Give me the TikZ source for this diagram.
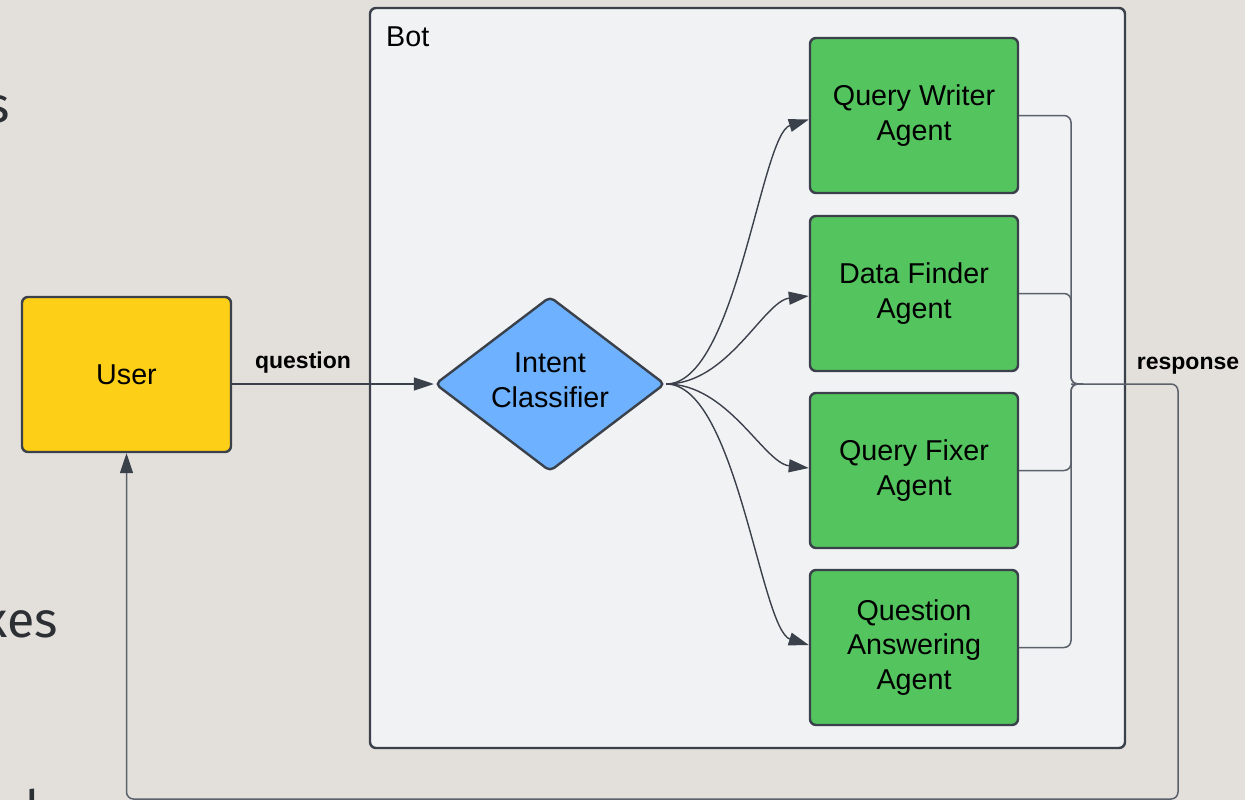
\documentclass[tikz,border=0pt]{standalone}
\usepackage{fontspec}
\setmainfont{Liberation Sans}
\newfontfamily\slidefont{Fira Sans}
\usetikzlibrary{shapes.geometric,arrows.meta}

\definecolor{pagebg}{HTML}{E3E0DC}
\definecolor{botfill}{HTML}{F1F2F4}
\definecolor{edgeink}{HTML}{3A414A}
\definecolor{wireink}{HTML}{5A616B}
\definecolor{userfill}{HTML}{FDCF16}
\definecolor{clsfill}{HTML}{6DB1FF}
\definecolor{agentfill}{HTML}{54C45E}
\definecolor{slideink}{HTML}{2C3034}

\tikzset{
  labelfont/.style={font=\fontsize{28.7}{34.5}\selectfont},
  shapebox/.style={draw=edgeink, line width=2.4pt, rounded corners=6pt,
    inner sep=0pt, align=center, labelfont},
  agentbox/.style={shapebox, fill=agentfill, minimum width=208pt, minimum height=155pt},
  tiphead/.style={-{Triangle[length=20pt,width=13pt,color=edgeink]}},
  fanline/.style={draw=edgeink, line width=1.4pt, tiphead},
  backwire/.style={draw=wireink, line width=1.5pt, rounded corners=7pt},
  edgetag/.style={font=\fontsize{23}{27}\selectfont\bfseries, inner sep=0pt},
  slidetext/.style={font=\slidefont\fontsize{50}{60}\selectfont, text=slideink, inner sep=0pt}
}

\begin{document}
\begin{tikzpicture}[x=1pt,y=-1pt]
  % page
  \fill[pagebg] (0,0) rectangle (1245,800);
  \useasboundingbox (0,0) rectangle (1245,800);

  % slide text peeking out from behind the diagram
  \node[slidetext, anchor=base east] (s1) at (10,122) {s};
  \node[slidetext, anchor=base east] (s2) at (58,637) {xes};
  \node[slidetext, anchor=base west] (s3) at (25,826) {l};

  % bot container
  \node[draw=edgeink, fill=botfill, line width=2.4pt, rounded corners=6pt,
        minimum width=755pt, minimum height=740pt, inner sep=0pt] (bot) at (747.5,378) {};
  \node[labelfont, anchor=base west, inner sep=0pt] (botlabel) at (386,47) {Bot};

  % nodes
  \node[shapebox, fill=userfill, minimum width=209pt, minimum height=155pt] (user) at (126.5,374.5) {User};
  \node[diamond, draw=edgeink, fill=clsfill, line width=2.4pt, rounded corners=5pt,
        minimum width=230pt, minimum height=175pt, inner sep=0pt, aspect=1.31] (ic) at (550,384) {};
  \node[labelfont, align=center, inner sep=0pt] (ictext) at (550,380.5) {Intent\\Classifier};

  \node[agentbox] (a1) at (914,115.5) {Query Writer\\Agent};
  \node[agentbox] (a2) at (914,293.5) {Data Finder\\Agent};
  \node[agentbox] (a3) at (914,470.5) {Query Fixer\\Agent};
  \node[agentbox] (a4) at (914,647.5) {Question\\Answering\\Agent};

  % junction and return route
  \coordinate (jn) at (1071,384);
  \coordinate (rc) at (1178,799);

  % question
  \draw[fanline] (user.east |- ic.west) -- (ic.west);
  \node[edgetag] (q) at (303,363) {question};

  % intent fan-out
  \draw[fanline] (ic.east) .. controls +(70,0) and +(-48,15) .. ([yshift=-4pt]a1.west);
  \draw[fanline] (ic.east) .. controls +(62,0) and +(-45,5) .. ([yshift=-2.5pt]a2.west);
  \draw[fanline] (ic.east) .. controls +(62,0) and +(-45,-5) .. ([yshift=2.5pt]a3.west);
  \draw[fanline] (ic.east) .. controls +(70,0) and +(-48,-15) .. ([yshift=2.5pt]a4.west);

  % responses merge
  \draw[backwire] (a1.east) -| (jn) -- ([xshift=12pt]jn);
  \draw[backwire] (a2.east) -| (jn) -- ([xshift=12pt]jn);
  \draw[backwire] (a3.east) -| (jn) -- ([xshift=12pt]jn);
  \draw[backwire] (a4.east) -| (jn) -- ([xshift=12pt]jn);

  % back to the user
  \draw[backwire, tiphead] (jn) -| (rc) -| (user.south);
  \node[edgetag] (resp) at (1188,365.5) {response};
\end{tikzpicture}
\end{document}
